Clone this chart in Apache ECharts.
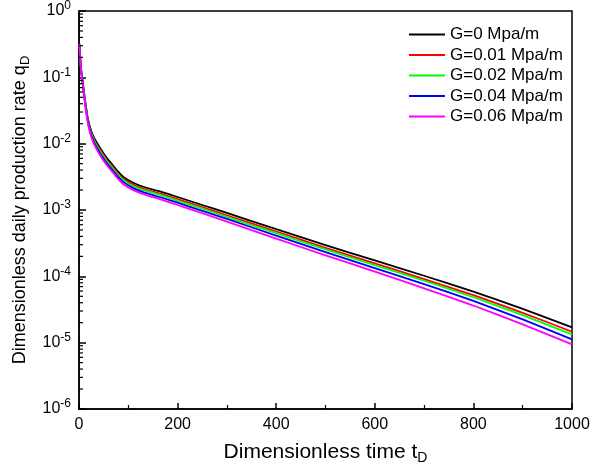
<!DOCTYPE html>
<html>
<head>
<meta charset="utf-8">
<script src="https://cdn.jsdelivr.net/npm/echarts@6/dist/echarts.min.js"></script>
<style>
html,body{margin:0;padding:0;background:#fff;}
#chart{width:603px;height:470px;}
</style>
</head>
<body>
<div id="chart"></div>
<script>
// ---- data ----
const tD = [1,3,5,8,12,17,22,28,35,45,55,66,78,90,110,130,164,200,250,300,400,500,600,700,800,900,1000];
const seriesNames = ['G=0 Mpa/m','G=0.01 Mpa/m','G=0.02 Mpa/m','G=0.04 Mpa/m','G=0.06 Mpa/m'];
const seriesColors = ['#000000','#ff0000','#00ff00','#0000ff','#ff00ff'];
const qG0   = [0.316,0.166,0.117,0.0794,0.0468,0.0263,0.0182,0.0135,0.0107,0.00813,0.00631,0.00501,0.00389,0.00316,0.00257,0.00224,0.00191,0.00157,0.00119,0.000902,0.000513,0.000295,0.000174,0.000102,0.0000589,0.0000324,0.0000170];
const qG001 = [0.316,0.166,0.117,0.0785,0.0457,0.0254,0.0174,0.0127,0.0100,0.00759,0.00589,0.00467,0.00363,0.00295,0.00240,0.00209,0.00178,0.00146,0.00111,0.000833,0.000474,0.000269,0.000157,0.0000909,0.0000519,0.0000282,0.0000146];
const qG002 = [0.316,0.166,0.116,0.0776,0.0447,0.0245,0.0166,0.0122,0.00953,0.00724,0.00562,0.00446,0.00347,0.00282,0.00229,0.00200,0.00170,0.00138,0.00105,0.000786,0.000447,0.000254,0.000148,0.0000858,0.0000484,0.0000260,0.0000133];
const qG004 = [0.316,0.164,0.114,0.0758,0.0432,0.0234,0.0159,0.0115,0.00900,0.00676,0.00525,0.00417,0.00324,0.00263,0.00214,0.00186,0.00157,0.00129,0.000967,0.000733,0.000412,0.000232,0.000133,0.0000765,0.0000426,0.0000224,0.0000112];
const qG006 = [0.316,0.162,0.112,0.0741,0.0417,0.0225,0.0150,0.0109,0.00840,0.00631,0.00490,0.00389,0.00302,0.00245,0.00199,0.00174,0.00146,0.00119,0.000893,0.000668,0.000371,0.000207,0.000118,0.0000659,0.0000363,0.0000189,0.0000094];
const allQ = [qG0,qG001,qG002,qG004,qG006];
const xTicks = [0,200,400,600,800,1000];
const yTickExponents = [-6,-5,-4,-3,-2,-1,0];

// minor tick values on log axis (2..9 x 10^n)
const yMinor = [];
for (let e = -6; e < 0; e++) for (let k = 2; k <= 9; k++) yMinor.push(k * Math.pow(10, e));

const FONT = 'Liberation Sans, Arial, sans-serif';
const chart = echarts.init(document.getElementById('chart'), null, {renderer:'canvas'});

const lineSeries = seriesNames.map((n, i) => ({
  name: n, type: 'line', symbol: 'none', smooth: 0.15,
  lineStyle: {color: seriesColors[i], width: 1.8, join: 'round'},
  itemStyle: {color: seriesColors[i]},
  data: tD.map((t, j) => [t, allQ[i][j]]),
  z: 3
}));

const minorSeries = {
  type: 'custom', silent: true, z: 4,
  data: yMinor.map(v => [0, v]),
  renderItem: function(params, api) {
    const p = api.coord([api.value(0), api.value(1)]);
    return {type: 'line', shape: {x1: p[0], y1: p[1], x2: p[0] + 4, y2: p[1]},
            style: {stroke: '#000', lineWidth: 1.2}};
  }
};

chart.setOption({
  animation: false,
  backgroundColor: '#fff',
  grid: {left: 79, right: 31, top: 11, bottom: 61, show: true, borderColor: '#000', borderWidth: 1.5, backgroundColor: 'transparent'},
  legend: {
    data: seriesNames, orient: 'vertical', left: 404, top: 21,
    icon: 'rect', itemWidth: 36, itemHeight: 2, itemGap: 3.5,
    textStyle: {fontFamily: FONT, fontSize: 17, color: '#000'}
  },
  xAxis: {
    type: 'value', min: 0, max: 1000, interval: 200,
    name: '{a|Dimensionless time t}{s|D}', nameLocation: 'middle', nameGap: 31,
    nameTextStyle: {fontFamily: FONT, fontSize: 21, color: '#000',
      rich: {a: {fontFamily: FONT, fontSize: 21, color: '#000'},
             s: {fontFamily: FONT, fontSize: 14, color: '#000', padding: [11,0,0,0]}}},
    axisLine: {lineStyle: {color: '#000', width: 1.5}},
    axisTick: {inside: true, length: 6, lineStyle: {color: '#000', width: 1.5}},
    minorTick: {show: true, splitNumber: 2, length: 4, lineStyle: {color: '#000', width: 1.2}},
    splitLine: {show: false},
    axisLabel: {fontFamily: FONT, fontSize: 16, color: '#000', margin: 8,
      formatter: v => xTicks.indexOf(v) >= 0 ? String(v) : ''}
  },
  yAxis: {
    type: 'log', logBase: 10, min: 1e-6, max: 1,
    name: '{a|Dimensionless daily production rate q}{s|D}', nameLocation: 'middle', nameGap: 36, nameRotate: 90,
    nameTextStyle: {fontFamily: FONT, fontSize: 18, color: '#000',
      rich: {a: {fontFamily: FONT, fontSize: 18, color: '#000'},
             s: {fontFamily: FONT, fontSize: 13, color: '#000', padding: [10,0,0,0]}}},
    axisLine: {lineStyle: {color: '#000', width: 1.5}},
    axisTick: {inside: true, length: 7, lineStyle: {color: '#000', width: 1.5}},
    minorTick: {show: false},
    splitLine: {show: false},
    axisLabel: {fontFamily: FONT, fontSize: 16, color: '#000', margin: 8,
      formatter: function(v) {
        const e = Math.round(Math.log10(v));
        if (yTickExponents.indexOf(e) < 0) return '';
        return '{b|10}{s|' + e + '}';
      },
      rich: {b: {fontFamily: FONT, fontSize: 16, color: '#000'},
             s: {fontFamily: FONT, fontSize: 12, color: '#000', padding: [0,0,10,0]}}}
  },
  series: lineSeries.concat([minorSeries])
});
</script>
</body>
</html>
